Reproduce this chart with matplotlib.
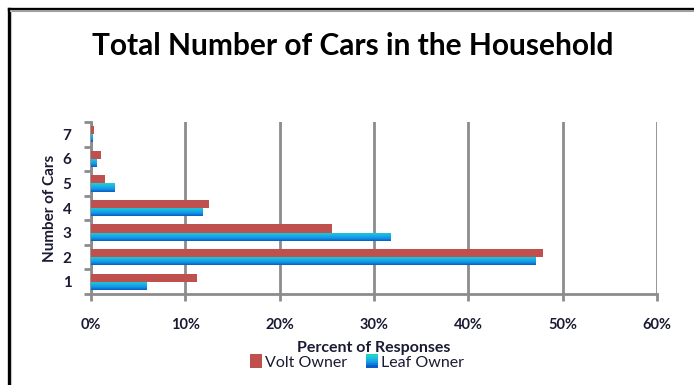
import numpy as np
import matplotlib
matplotlib.use("Agg")
import matplotlib.pyplot as plt
from matplotlib.patches import Rectangle
from matplotlib.colors import LinearSegmentedColormap
from matplotlib.legend_handler import HandlerBase
from matplotlib.ticker import PercentFormatter, FixedLocator

plt.rcParams['font.family'] = ['Lato', 'DejaVu Sans']

cars = ['1', '2', '3', '4', '5', '6', '7']
volt = [11.2, 47.9, 25.6, 12.5, 1.5, 1.05, 0.3]
leaf = [5.9, 47.1, 31.7, 11.8, 2.45, 0.6, 0.2]

volt_color = '#C0504D'
leaf_cmap = LinearSegmentedColormap.from_list(
    'leaf', ['#0a5cc8', '#1296e6', '#19b4e4', '#1fd2c8'])
grey = '#8c8c8c'
text_color = '#1a1a33'

fig = plt.figure(figsize=(6.94, 3.85), dpi=100)

# outer frame: black edge on left/top with a grey shadow
fig.add_artist(plt.Line2D([8.5 / 694, 8.5 / 694], [0, 1 - 8.5 / 385],
                          transform=fig.transFigure, color='black', lw=2.4))
fig.add_artist(plt.Line2D([8.5 / 694, 1], [1 - 8.5 / 385, 1 - 8.5 / 385],
                          transform=fig.transFigure, color='black', lw=2.4))
fig.add_artist(plt.Line2D([10.5 / 694, 1], [1 - 11 / 385, 1 - 11 / 385],
                          transform=fig.transFigure, color='#a0a0a0', lw=1.5))
fig.add_artist(plt.Line2D([10.8 / 694, 10.8 / 694], [0, 1 - 11 / 385],
                          transform=fig.transFigure, color='#c8c8c8', lw=0.8))

ax = fig.add_axes([91 / 694, 1 - 294 / 385, (657 - 91) / 694, (294 - 122) / 385])

y = np.arange(len(cars))
h = 0.33
ax.barh(y + h / 2, volt, height=h, color=volt_color, zorder=3)
leaf_bars = ax.barh(y - h / 2, leaf, height=h, color='none', zorder=3)

# vertical gradient fill for the Leaf bars
grad = np.linspace(0, 1, 64).reshape(-1, 1)
for bar, val in zip(leaf_bars, leaf):
    yb = bar.get_y()
    im = ax.imshow(grad, cmap=leaf_cmap, aspect='auto', origin='lower',
                   extent=[0, val, yb, yb + h], zorder=3)
    im.set_clip_path(bar)

ax.set_xlim(0, 60)
ax.set_ylim(-0.5, len(cars) - 0.5)
ax.xaxis.set_major_locator(FixedLocator([0, 10, 20, 30, 40, 50, 60]))
ax.xaxis.set_major_formatter(PercentFormatter(decimals=0))
ax.set_yticks(y)
ax.set_yticklabels(cars)
ax.set_yticks(np.arange(-0.5, len(cars)), minor=True)

ax.grid(axis='x', color=grey, lw=2, zorder=0)
for s in ['top', 'right']:
    ax.spines[s].set_visible(False)
for s in ['left', 'bottom']:
    ax.spines[s].set_color(grey)
    ax.spines[s].set_linewidth(2)
ax.tick_params(axis='y', which='major', length=0, pad=14,
               labelsize=11, labelcolor=text_color)
ax.tick_params(axis='y', which='minor', length=5, width=2, color=grey)
ax.tick_params(axis='x', length=5, width=2, color=grey, pad=12,
               labelsize=10.5, labelcolor=text_color)
for lab in ax.get_yticklabels() + ax.get_xticklabels():
    lab.set_fontweight('bold')

ax.set_ylabel('Number of Cars', fontsize=11, fontweight='bold',
              color=text_color, labelpad=4)
ax.set_xlabel('Percent of Responses', fontsize=11.5, fontweight='bold',
              color=text_color, labelpad=7)

fig.text(353 / 694, 1 - 46 / 385, 'Total Number of Cars in the Household',
         ha='center', va='center', fontsize=21.5, fontweight='bold', color='black')


class GradientHandler(HandlerBase):
    def create_artists(self, legend, orig_handle, xdescent, ydescent,
                       width, height, fontsize, trans):
        n = 6
        cols = leaf_cmap(np.linspace(0, 1, n))
        arts = []
        for i, c in enumerate(cols):
            r = Rectangle((xdescent, -ydescent + i * height / n), width, height / n,
                          facecolor=c, edgecolor='none', transform=trans)
            arts.append(r)
        return arts


volt_handle = Rectangle((0, 0), 1, 1, facecolor=volt_color)
leaf_handle = Rectangle((0, 0), 1, 1, facecolor='#1296e6')
fig.legend([volt_handle, leaf_handle], ['Volt Owner', 'Leaf Owner'],
           loc='center', bbox_to_anchor=(357 / 694, 1 - 362 / 385),
           ncol=2, frameon=False, fontsize=11.5, handlelength=0.75,
           handleheight=0.9, handletextpad=0.2, columnspacing=1.2,
           borderpad=0, handler_map={leaf_handle: GradientHandler()},
           labelcolor=text_color)

fig.savefig('out.png', dpi=100)
